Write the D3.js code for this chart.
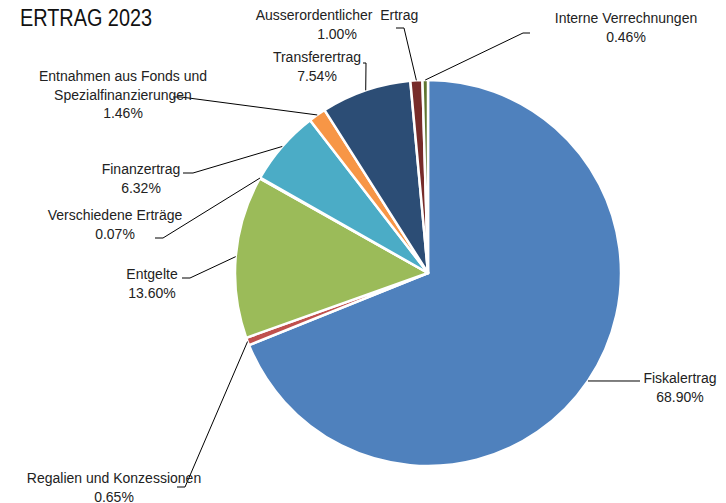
<!DOCTYPE html>
<html>
<head>
<meta charset="utf-8">
<script src="https://cdn.jsdelivr.net/npm/d3@7"></script>
<style>
  body { margin: 0; background: #fff; }
  svg { display: block; font-family: "Liberation Sans", Arial, sans-serif; }
</style>
</head>
<body>
<svg id="chart" width="726" height="503"></svg>
<script>
// chart data (clockwise from 12 o'clock)
const categories = [
  'Fiskalertrag',
  'Regalien und Konzessionen',
  'Entgelte',
  'Verschiedene Erträge',
  'Finanzertrag',
  'Entnahmen aus Fonds und\nSpezialfinanzierungen',
  'Transferertrag',
  'Ausserordentlicher  Ertrag',
  'Interne Verrechnungen'
]
const shares = [68.90, 0.65, 13.60, 0.07, 6.32, 1.46, 7.54, 1.00, 0.46]
const colors = ['#4f81bd', '#c0504d', '#9bbb59', '#8064a2', '#4bacc6',
  '#f79646', '#2c4d75', '#772c2a', '#5f7530']

// label placement: text centre x, first baseline y, leader elbow and end
const labelLayout = [
  { x: 680, y: 383, elbow: [640, 381], end: [640, 381] },
  { x: 114, y: 483, elbow: [185, 487], end: [177, 487] },
  { x: 152, y: 279, elbow: [190, 278], end: [182, 278] },
  { x: 115, y: 220, elbow: [163, 238], end: [155, 238] },
  { x: 141, y: 174, elbow: [193, 173], end: [183, 173] },
  { x: 123, y: 81, elbow: [181, 97], end: [173, 97] },
  { x: 317, y: 62, elbow: [366, 63], end: [363, 63] },
  { x: 337, y: 20, elbow: [404, 28], end: [396, 28] },
  { x: 626, y: 23, elbow: [523, 33], end: [530, 33] }
]

const cx = 428, cy = 273, radius = 193
const lineHeight = 18.5
const fmt = d3.format('.2f')

const svg = d3.select('#chart')

svg.append('text')
  .attr('x', 20)
  .attr('y', 26)
  .attr('font-size', 23)
  .attr('fill', '#111')
  .attr('textLength', 132)
  .attr('lengthAdjust', 'spacingAndGlyphs')
  .text('ERTRAG 2023')

const pie = d3.pie().sort(null).value(d => d)
const arcs = pie(shares)

const arc = d3.arc().innerRadius(0).outerRadius(radius)
const edge = d3.arc().innerRadius(radius).outerRadius(radius)

const g = svg.append('g').attr('transform', `translate(${cx},${cy})`)

g.selectAll('path')
  .data(arcs)
  .join('path')
  .attr('d', arc)
  .attr('fill', (d, i) => colors[i])
  .attr('stroke', '#fff')
  .attr('stroke-width', 2.5)
  .attr('stroke-linejoin', 'round')

// leader lines from the slice edge to the labels
svg.append('g')
  .selectAll('polyline')
  .data(arcs)
  .join('polyline')
  .attr('fill', 'none')
  .attr('stroke', '#000')
  .attr('stroke-width', 1)
  .attr('points', (d, i) => {
    const [px, py] = edge.centroid(d)
    const l = labelLayout[i]
    return [[px + cx, py + cy], l.elbow, l.end].map(p => p.join(',')).join(' ')
  })

const labels = svg.append('g')
  .attr('font-size', 14)
  .attr('fill', '#222')
  .attr('text-anchor', 'middle')

labels.selectAll('text')
  .data(arcs)
  .join('text')
  .attr('x', (d, i) => labelLayout[i].x)
  .attr('y', (d, i) => labelLayout[i].y)
  .each(function (d, i) {
    const lines = categories[i].split('\n').concat(fmt(shares[i]) + '%')
    d3.select(this).selectAll('tspan')
      .data(lines)
      .join('tspan')
      .attr('x', labelLayout[i].x)
      .attr('dy', (t, k) => (k === 0 ? 0 : lineHeight))
      .attr('xml:space', 'preserve')
      .text(t => t)
  })
</script>
</body>
</html>
